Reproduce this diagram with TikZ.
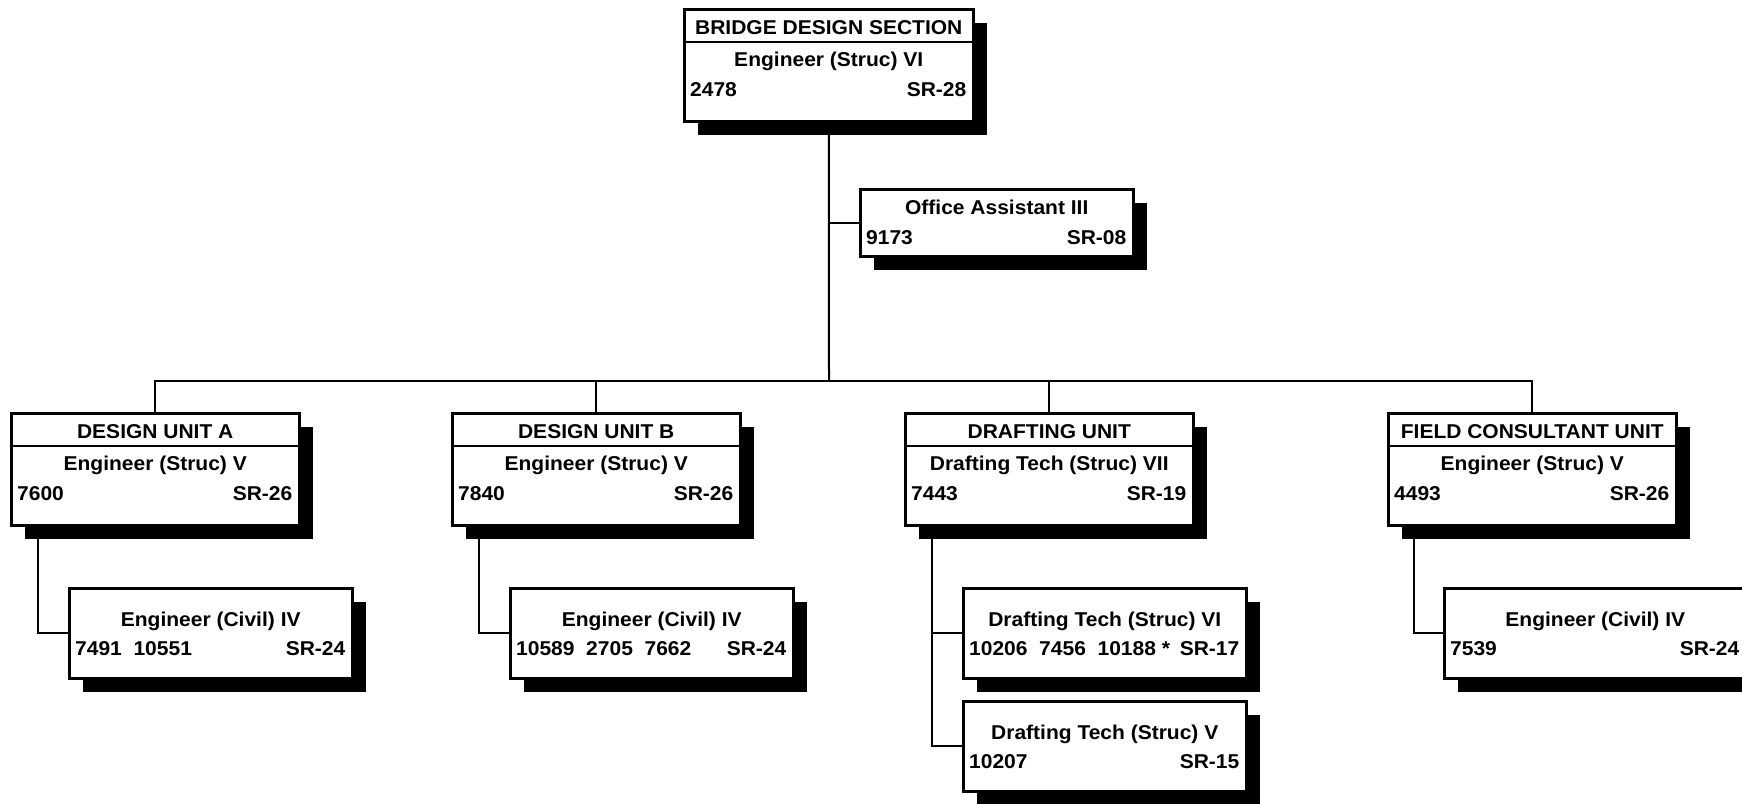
\documentclass[tikz,border=0pt]{standalone}
\usepackage{fontspec}
\setmainfont{Liberation Sans}[FakeStretch=1.05]
\usetikzlibrary{shadows,calc}

\begin{document}
\begin{tikzpicture}[x=1pt,y=-1pt,font=\fontsize{20}{24}\selectfont\bfseries]
\tikzstyle{unit}=[draw,line width=2.5pt,fill=white,anchor=north west,inner sep=0,minimum width=288,minimum height=112,drop shadow={shadow xshift=14pt,shadow yshift=-14pt,fill=black,opacity=1}]
\tikzstyle{post}=[unit,minimum width=283,minimum height=90]
\tikzstyle{t}=[anchor=base,inner sep=0]
\tikzstyle{num}=[anchor=base west,inner sep=0]
\tikzstyle{grade}=[anchor=base east,inner sep=0]
\tikzstyle{link}=[line width=2pt]
\useasboundingbox (0,0) rectangle (1742,803);
\clip (0,0) rectangle (1742,803);
% top boxes, then the lines between them
\coordinate (bus) at (829,381);
\node[unit,minimum width=289] (sec) at (683,8) {};
\node[post,minimum width=273,minimum height=67] (oa) at (859,188) {};
\node[unit] (ua) at (10,412) {};
\node[unit] (ub) at (451,412) {};
\node[unit] (ud) at (904,412) {};
\node[unit] (uf) at (1387,412) {};
\draw[link] (sec.south) -- (bus);
\draw[link] (oa.west) -- (oa.west -| bus);
\draw[link] (ua.north) |- (bus) -| (uf.north);
\draw[link] (ub.north) |- (bus);
\draw[link] (ud.north) |- (bus);
\node[post] (ua1) at (68,587) {};
\node[post] (ub1) at (509,587) {};
\node[post] (ud1) at (962,587) {};
\node[post] (ud2) at (962,700) {};
\node[post,minimum width=302] (uf1) at (1443,587) {};
\draw[link] ([xshift=28]ua.south west) |- (ua1.west);
\draw[link] ([xshift=28]ub.south west) |- (ub1.west);
\draw[link] ([xshift=28]ud.south west) |- (ud1.west);
\draw[link] ([xshift=28]ud.south west) |- (ud2.west);
\draw[link] ([xshift=27]uf.south west) |- (uf1.west);
% header rules
\foreach \b in {sec,ua,ub,ud,uf} {
  \draw[line width=2.5pt] ([yshift=-34]\b.north west) -- ([yshift=-34]\b.north east);
}
% section
\node[t] (sec-t) at ([yshift=-26]sec.north) {BRIDGE DESIGN SECTION};
\node[t] (sec-p) at ([yshift=-58]sec.north) {Engineer (Struc) VI};
\node[num] (sec-n) at ([xshift=7,yshift=-88]sec.north west) {2478};
\node[grade] (sec-g) at ([xshift=-8,yshift=-88]sec.north east) {SR-28};
% office
\node[t] (oa-p) at ([yshift=-26]oa.north) {Office Assistant III};
\node[num] (oa-n) at ([xshift=7,yshift=-56]oa.north west) {9173};
\node[grade] (oa-g) at ([xshift=-8,yshift=-56]oa.north east) {SR-08};
% units
\node[t] (ua-t) at ([yshift=-26]ua.north) {DESIGN UNIT A};
\node[t] (ua-p) at ([yshift=-58]ua.north) {Engineer (Struc) V};
\node[num] (ua-n) at ([xshift=7,yshift=-88]ua.north west) {7600};
\node[grade] (ua-g) at ([xshift=-8,yshift=-88]ua.north east) {SR-26};
\node[t] (ub-t) at ([yshift=-26]ub.north) {DESIGN UNIT B};
\node[t] (ub-p) at ([yshift=-58]ub.north) {Engineer (Struc) V};
\node[num] (ub-n) at ([xshift=7,yshift=-88]ub.north west) {7840};
\node[grade] (ub-g) at ([xshift=-8,yshift=-88]ub.north east) {SR-26};
\node[t] (ud-t) at ([yshift=-26]ud.north) {DRAFTING UNIT};
\node[t] (ud-p) at ([yshift=-58]ud.north) {Drafting Tech (Struc) VII};
\node[num] (ud-n) at ([xshift=7,yshift=-88]ud.north west) {7443};
\node[grade] (ud-g) at ([xshift=-8,yshift=-88]ud.north east) {SR-19};
\node[t] (uf-t) at ([yshift=-26]uf.north) {FIELD CONSULTANT UNIT};
\node[t] (uf-p) at ([yshift=-58]uf.north) {Engineer (Struc) V};
\node[num] (uf-n) at ([xshift=7,yshift=-88]uf.north west) {4493};
\node[grade] (uf-g) at ([xshift=-8,yshift=-88]uf.north east) {SR-26};
% posts under units
\node[t] (ua1-p) at ([yshift=-39]ua1.north) {Engineer (Civil) IV};
\node[num] (ua1-n) at ([xshift=7,yshift=-68]ua1.north west) {7491\ \ 10551};
\node[grade] (ua1-g) at ([xshift=-8,yshift=-68]ua1.north east) {SR-24};
\node[t] (ub1-p) at ([yshift=-39]ub1.north) {Engineer (Civil) IV};
\node[num] (ub1-n) at ([xshift=7,yshift=-68]ub1.north west) {10589\ \ 2705\ \ 7662};
\node[grade] (ub1-g) at ([xshift=-8,yshift=-68]ub1.north east) {SR-24};
\node[t] (ud1-p) at ([yshift=-39]ud1.north) {Drafting Tech (Struc) VI};
\node[num] (ud1-n) at ([xshift=7,yshift=-68]ud1.north west) {10206\ \ 7456\ \ 10188 *};
\node[grade] (ud1-g) at ([xshift=-8,yshift=-68]ud1.north east) {SR-17};
\node[t] (ud2-p) at ([yshift=-39]ud2.north) {Drafting Tech (Struc) V};
\node[num] (ud2-n) at ([xshift=7,yshift=-68]ud2.north west) {10207};
\node[grade] (ud2-g) at ([xshift=-8,yshift=-68]ud2.north east) {SR-15};
\node[t] (uf1-p) at ([yshift=-39]uf1.north) {Engineer (Civil) IV};
\node[num] (uf1-n) at ([xshift=7,yshift=-68]uf1.north west) {7539};
\node[grade] (uf1-g) at ([xshift=-8,yshift=-68]uf1.north east) {SR-24};
\end{tikzpicture}
\end{document}
